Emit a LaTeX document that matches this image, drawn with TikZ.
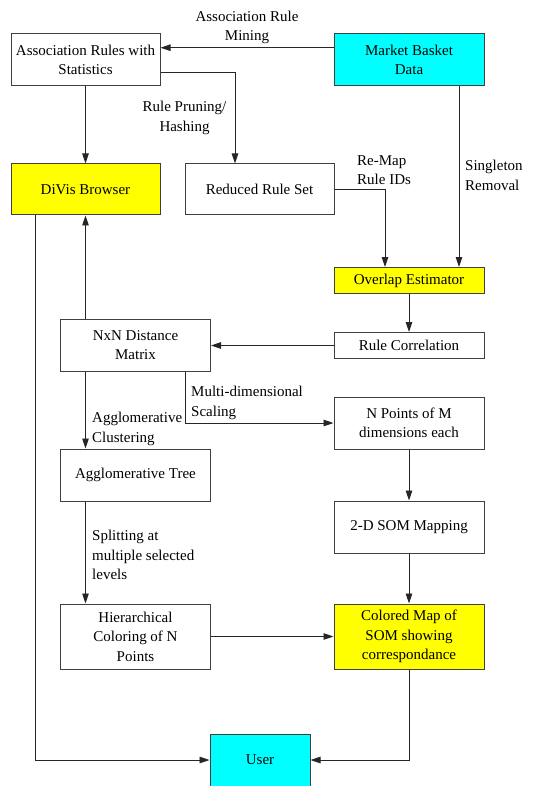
\documentclass[tikz,border=0pt]{standalone}
\usepackage{fontspec}
\setmainfont{Liberation Serif}
\usetikzlibrary{arrows.meta}
\definecolor{cyanbox}{RGB}{0,255,255}
\definecolor{yellowbox}{RGB}{255,255,0}
\begin{document}
\begin{tikzpicture}[x=1pt,y=-1pt,
  box/.style={draw=black!75,line width=1pt,minimum width=150pt,minimum height=52pt,inner sep=2pt,align=center,font=\fontsize{15}{19.5}\selectfont},
  lbl/.style={inner sep=0pt,font=\fontsize{15}{19.5}\selectfont},
  conn/.style={line width=0.9pt,black!85,-{Triangle[length=10pt,width=6.5pt]}}]
\useasboundingbox (0,0) rectangle (544,786);
\node[box,minimum width=149pt] (assoc) at (85.5,60) {Association Rules with\\Statistics};
\node[box,fill=cyanbox] (market) at (409,60) {Market Basket\\Data};
\node[box,fill=yellowbox,minimum width=149pt,minimum height=51pt] (divis) at (85.5,189.5) {DiVis Browser};
\node[box,minimum width=149pt,minimum height=51pt] (reduced) at (259.5,189.5) {Reduced Rule Set};
\node[box,fill=yellowbox,minimum height=26pt] (overlap) at (409,280.5) {Overlap Estimator};
\node[box] (nxn) at (135.5,345) {NxN Distance\\Matrix};
\node[box,minimum height=26pt] (rulecorr) at (409,345.5) {Rule Correlation};
\node[box] (npoints) at (409,423) {N Points of M\\dimensions each};
\node[box] (aggtree) at (135.5,475) {Agglomerative Tree};
\node[box] (som) at (409,527) {2-D SOM Mapping};
\node[box,minimum height=65pt] (hier) at (135.5,636.5) {Hierarchical\\Coloring of N\\Points};
\node[box,fill=yellowbox,minimum height=65pt] (colored) at (409,636.5) {Colored Map of\\SOM showing\\correspondance};
\node[box,fill=cyanbox,minimum width=100pt] (user) at (260,760) {User};

\node[lbl,align=center] (l1) at (247,27.5) {Association Rule\\Mining};
\node[lbl,align=center] (l2) at (184.5,118) {Rule Pruning/\\Hashing};
\node[lbl,align=left,anchor=west] (l3) at (357,170) {Re-Map\\Rule IDs};
\node[lbl,align=left,anchor=west] (l4) at (465,175.5) {Singleton\\Removal};
\node[lbl,align=left,anchor=west] (l5) at (191,403) {Multi-dimensional\\Scaling};
\node[lbl,align=left,anchor=west] (l6) at (92,429) {Agglomerative\\Clustering};
\node[lbl,align=left,anchor=west] (l7) at (92,555) {Splitting at\\multiple selected\\levels};

\draw[conn] ([yshift=12.3pt]market.west) -- ([yshift=12.3pt]assoc.east);
\draw[conn] ([yshift=-12.7pt]assoc.east) -| ([xshift=-24.5pt]reduced.north);
\draw[conn] (assoc.south) -- (divis.north);
\draw[conn] ([xshift=50pt]market.south) -- ([xshift=50pt]overlap.north);
\draw[conn] (reduced.east) -| ([xshift=-24pt]overlap.north);
\draw[conn] (overlap.south) -- (rulecorr.north);
\draw[conn] (rulecorr.west) -- (rulecorr.west -| nxn.east);
\draw[conn] ([xshift=-50pt]nxn.north) -- (divis.south);
\draw[conn] ([xshift=50pt]nxn.south) |- (npoints.west);
\draw[conn] ([xshift=-50pt]nxn.south) -- ([xshift=-50pt]aggtree.north);
\draw[conn] (npoints.south) -- (som.north);
\draw[conn] ([xshift=-50pt]aggtree.south) -- ([xshift=-50pt]hier.north);
\draw[conn] (som.south) -- (colored.north);
\draw[conn] (hier.east) -- (colored.west);
\draw[conn] ([xshift=-50pt]divis.south) |- (user.west);
\draw[conn] (colored.south) |- (user.east);
\end{tikzpicture}
\end{document}
